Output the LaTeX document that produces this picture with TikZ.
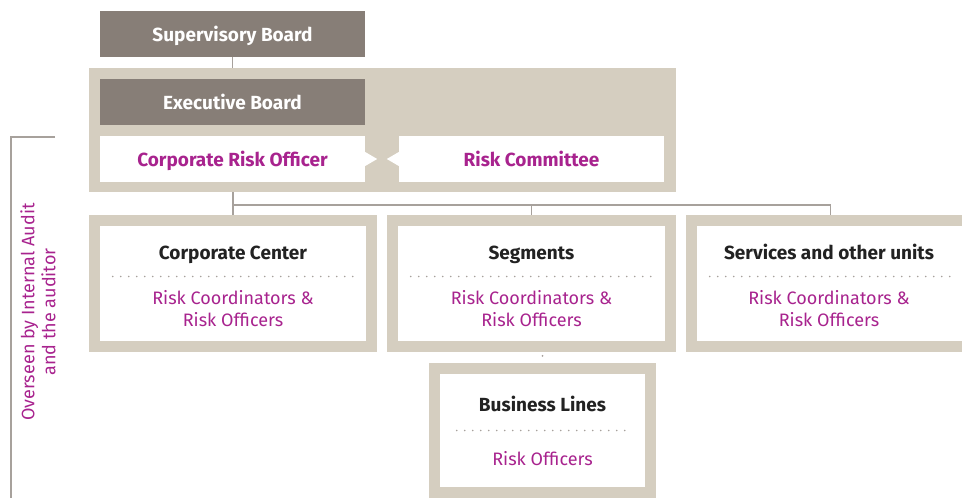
\documentclass[tikz,border=0pt]{standalone}
\usepackage{fontspec}
\setmainfont{Fira Sans}

\begin{document}
\begin{tikzpicture}[x=1pt, y=-1pt]
    \definecolor{beige}{HTML}{D5CEC0}
    \definecolor{board}{HTML}{877E77}
    \definecolor{risk}{HTML}{A8238E}
    \definecolor{linegray}{HTML}{A7A19C}
    \definecolor{ink}{HTML}{222222}

    \tikzset{
        boardbox/.style={fill=board, text=white, minimum width=265pt, minimum height=46pt, inner sep=0pt, text height=15pt, text depth=0pt, font=\fontsize{19}{22}\selectfont\bfseries},
        officebox/.style={boardbox, fill=white, text=risk},
        frame/.style={fill=beige, inner sep=0pt},
        unit/.style={fill=white, minimum width=266pt, minimum height=115pt, inner sep=0pt},
        head/.style={text=ink, inner sep=0pt, anchor=base, font=\fontsize{19}{22}\selectfont\bfseries},
        body/.style={text=risk, inner sep=0pt, anchor=base, align=center, font=\fontsize{18}{22.5}\selectfont},
        link/.style={draw=linegray, line width=1.2pt},
        sep/.style={draw=linegray, line width=1.8pt, line cap=round, dash pattern=on 0pt off 8pt},
    }

    \useasboundingbox (0,0) rectangle (962,498);
    \clip (0,0) rectangle (962,498);

    % top of the organisation
    \node[boardbox] (sb) at (232.5,33.5) {Supervisory Board};
    \node[frame, minimum width=587pt, minimum height=124pt] (exframe) at (382.5,130) {};
    \node[boardbox] (eb) at (232.5,102) {Executive Board};
    \node[officebox] (cro) at (232.5,159) {Corporate Risk Officer};
    \node[officebox] (rc) at (531.5,159) {Risk Committee};

    % small white arrowheads between officer and committee
    \fill[white] (cro.east) ++(0,-7) -- ++(12,7) -- ++(-12,7) -- cycle;
    \fill[white] (rc.west) ++(0,-7) -- ++(-12,7) -- ++(12,7) -- cycle;

    \draw[link] (sb.south) -- (sb.south |- exframe.north);

    % units
    \node[frame, minimum width=288pt, minimum height=137pt] (ccframe) at (233,283.5) {};
    \node[unit] (cc) at (ccframe) {};
    \node[head] (cchead) at (233,259) {Corporate Center};
    \draw[sep] ([shift={(13,-7)}]cc.west) -- ([shift={(-13,-7)}]cc.east);
    \node[body] (ccbody) at (233,326.5) {Risk Coordinators \&\\Risk Officers};

    \node[frame, minimum width=289pt, minimum height=137pt] (sgframe) at (531.5,283.5) {};
    \node[unit, minimum width=267pt] (sg) at (sgframe) {};
    \node[head] (sghead) at (531.5,259) {Segments};
    \draw[sep] ([shift={(13,-7)}]sg.west) -- ([shift={(-13,-7)}]sg.east);
    \node[body] (sgbody) at (531.5,326.5) {Risk Coordinators \&\\Risk Officers};

    \node[frame, minimum width=289pt, minimum height=137pt] (svframe) at (830.5,283.5) {};
    \node[unit, minimum width=267pt] (sv) at (svframe) {};
    \node[head] (svhead) at (829,259) {Services and other units};
    \draw[sep] ([shift={(13,-7)}]sv.west) -- ([shift={(-13,-7)}]sv.east);
    \node[body] (svbody) at (829,326.5) {Risk Coordinators \&\\Risk Officers};

    \node[frame, minimum width=227pt, minimum height=135pt] (blframe) at (542.5,430.5) {};
    \node[unit, minimum width=205pt, minimum height=113pt] (bl) at (blframe) {};
    \node[head] (blhead) at (542.5,411) {Business Lines};
    \draw[sep] ([shift={(17,0)}]bl.west) -- ([shift={(-17,0)}]bl.east);
    \node[body] (blbody) at (542.5,465) {Risk Officers};

    % reporting lines
    \draw[link] (exframe.south -| ccframe.north) -- (ccframe.north);
    \draw[link] (ccframe.north |- 0,205) -| (svframe.north);
    \draw[link] (sgframe.north |- 0,205) -- (sgframe.north);
    \fill[linegray] (blframe.north) ++(0,-7) circle[radius=1pt];

    % oversight bracket
    \coordinate (brtop) at (55,137);
    \coordinate (brbot) at (11,498);
    \draw[link] (brtop) -| (brbot);
    \node[rotate=90, text=risk, align=center, font=\fontsize{18}{21}\selectfont] (audit) at (38,312) {Overseen by Internal Audit\\and the auditor};

\end{tikzpicture}
\end{document}
